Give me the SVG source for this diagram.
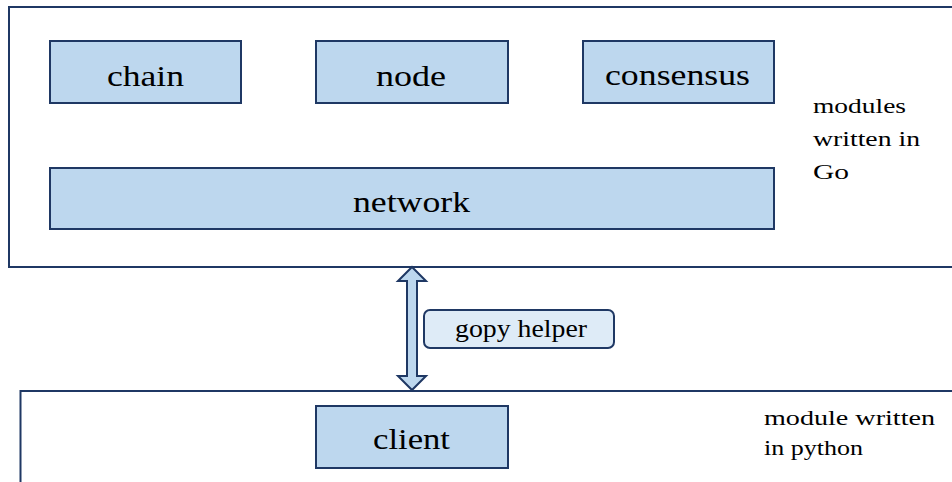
<svg xmlns="http://www.w3.org/2000/svg" width="952" height="482" viewBox="0 0 952 482">
<style>
.frame{fill:#ffffff;stroke:#1f3864;stroke-width:2}
.box{fill:#bdd7ee;stroke:#1f3864;stroke-width:2}
.lbl{fill:#deebf7;stroke:#1f3864;stroke-width:2}
text{fill:#000;font-family:"Liberation Serif","Times New Roman",serif}
</style>
<rect width="952" height="482" fill="#ffffff"/>
<g id="go-layer">
<rect class="frame" x="9" y="7" width="1000" height="260"/>
<text font-size="22" x="813" y="113" textLength="93" lengthAdjust="spacingAndGlyphs">modules</text>
<text font-size="22" x="813" y="146" textLength="107" lengthAdjust="spacingAndGlyphs">written in</text>
<text font-size="22" x="813" y="179" textLength="36" lengthAdjust="spacingAndGlyphs">Go</text>
</g>
<g id="python-layer">
<rect class="frame" x="20.5" y="391" width="1000" height="200"/>
<text font-size="22" x="764" y="425" textLength="171" lengthAdjust="spacingAndGlyphs">module written</text>
<text font-size="22" x="764" y="455" textLength="99" lengthAdjust="spacingAndGlyphs">in python</text>
</g>
<g id="chain">
<rect class="box" x="50" y="41" width="191" height="62"/>
<text font-size="30" x="107" y="86" textLength="77" lengthAdjust="spacingAndGlyphs">chain</text>
</g>
<g id="node">
<rect class="box" x="316" y="41" width="192" height="62"/>
<text font-size="30" x="376" y="86" textLength="70" lengthAdjust="spacingAndGlyphs">node</text>
</g>
<g id="consensus">
<rect class="box" x="583" y="41" width="191" height="62"/>
<text font-size="30" x="605" y="85" textLength="145" lengthAdjust="spacingAndGlyphs">consensus</text>
</g>
<g id="network">
<rect class="box" x="50" y="168" width="724" height="61"/>
<text font-size="30" x="353" y="212" textLength="117" lengthAdjust="spacingAndGlyphs">network</text>
</g>
<g id="client">
<rect class="box" x="316" y="406" width="192" height="62"/>
<text font-size="30" x="373" y="449" textLength="77" lengthAdjust="spacingAndGlyphs">client</text>
</g>
<g id="connectors">
<polygon class="box" points="412,267 426,281 417,281 417,376 426,376 412,390 398,376 407,376 407,281 398,281"/>
</g>
<g id="gopy-helper">
<rect class="lbl" x="424" y="310" width="190" height="38" rx="6"/>
<text font-size="26" x="455" y="337" textLength="132" lengthAdjust="spacingAndGlyphs">gopy helper</text>
</g>
</svg>
